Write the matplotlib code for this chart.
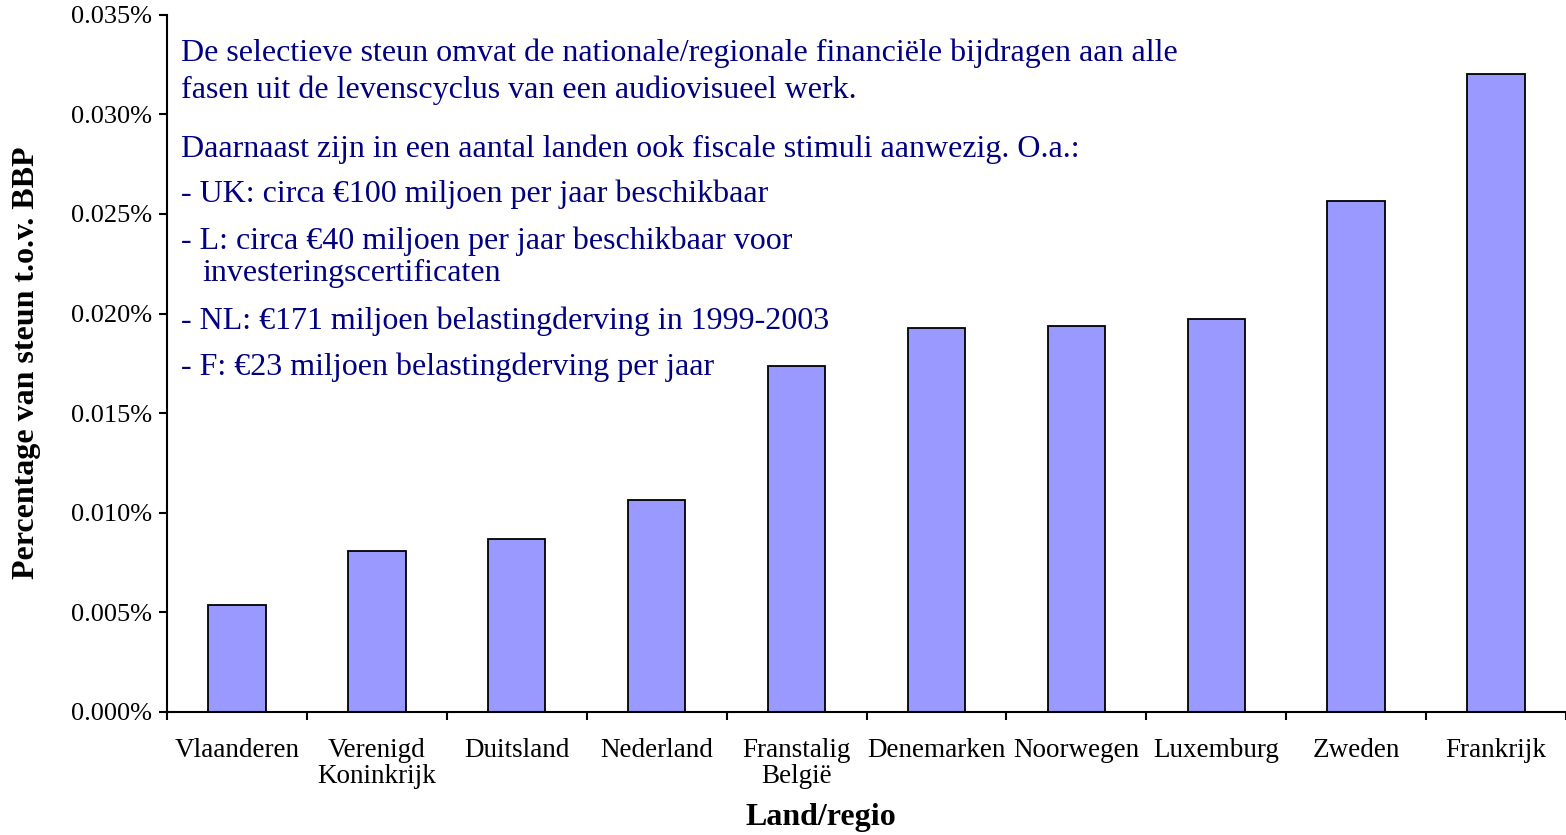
import matplotlib
matplotlib.use('Agg')

import matplotlib.pyplot as plt
import numpy as np
from matplotlib.ticker import FuncFormatter, MultipleLocator

plt.rcParams['font.family'] = ['Liberation Serif', 'DejaVu Serif']

# data (percentage of GDP)
landen = ['Vlaanderen', 'Verenigd\nKoninkrijk', 'Duitsland', 'Nederland',
          'Franstalig\nBelgië', 'Denemarken', 'Noorwegen', 'Luxemburg',
          'Zweden', 'Frankrijk']
steun = [0.00538, 0.00810, 0.00870, 0.01066, 0.01735,
         0.01926, 0.01937, 0.01972, 0.02565, 0.03203]

tekst = [
    'De selectieve steun omvat de nationale/regionale financiële bijdragen aan alle',
    'fasen uit de levenscyclus van een audiovisueel werk.',
    'Daarnaast zijn in een aantal landen ook fiscale stimuli aanwezig. O.a.:',
    '- UK: circa €100 miljoen per jaar beschikbaar',
    '- L: circa €40 miljoen per jaar beschikbaar voor',
    'investeringscertificaten',
    '- NL: €171 miljoen belastingderving in 1999-2003',
    '- F: €23 miljoen belastingderving per jaar',
]
tekst_y = [53, 90, 149, 194, 241, 273, 321, 367]
tekst_x = [181, 181, 181, 181, 181, 202, 181, 181]

W, H = 1566, 835
fig = plt.figure(figsize=(W / 100, H / 100), dpi=100)
ax = fig.add_axes([167 / W, (H - 712) / H, 1 - 167 / W, (712 - 14.7) / H])

x = np.arange(len(landen))
ax.bar(x, steun, width=0.41, color='#9999FF', edgecolor='black', linewidth=1.3)

ax.set_xlim(-0.5, len(landen) - 0.5)
ax.set_ylim(0, 0.035)
ax.yaxis.set_major_locator(MultipleLocator(0.005))
ax.yaxis.set_major_formatter(FuncFormatter(lambda v, p: f'{v:.3f}%'))

ax.set_xticks(x)
ax.set_xticklabels(landen, fontsize=19.5, linespacing=1.05)
ax.tick_params(axis='x', which='major', length=0, pad=19)
ax.set_xticks(np.arange(len(landen) + 1) - 0.5, minor=True)
ax.tick_params(axis='x', which='minor', length=6, width=1.5, direction='out')
ax.tick_params(axis='y', labelsize=19, length=6, width=1.5, direction='out', pad=5)

for s in ['top', 'right']:
    ax.spines[s].set_visible(False)
for s in ['left', 'bottom']:
    ax.spines[s].set_linewidth(1.5)

fig.text(821 / W, 1 - 818 / H, 'Land/regio', fontsize=23, fontweight='bold',
         ha='center', va='center')
fig.text(27 / W, 1 - 363 / H, 'Percentage van steun t.o.v. BBP', rotation=90,
         fontsize=23, fontweight='bold', ha='center', va='center')

for t, tx, ty in zip(tekst, tekst_x, tekst_y):
    fig.text(tx / W, 1 - ty / H, t, fontsize=23, color='#000080',
             ha='left', va='center')

plt.savefig('out.png', dpi=100)
